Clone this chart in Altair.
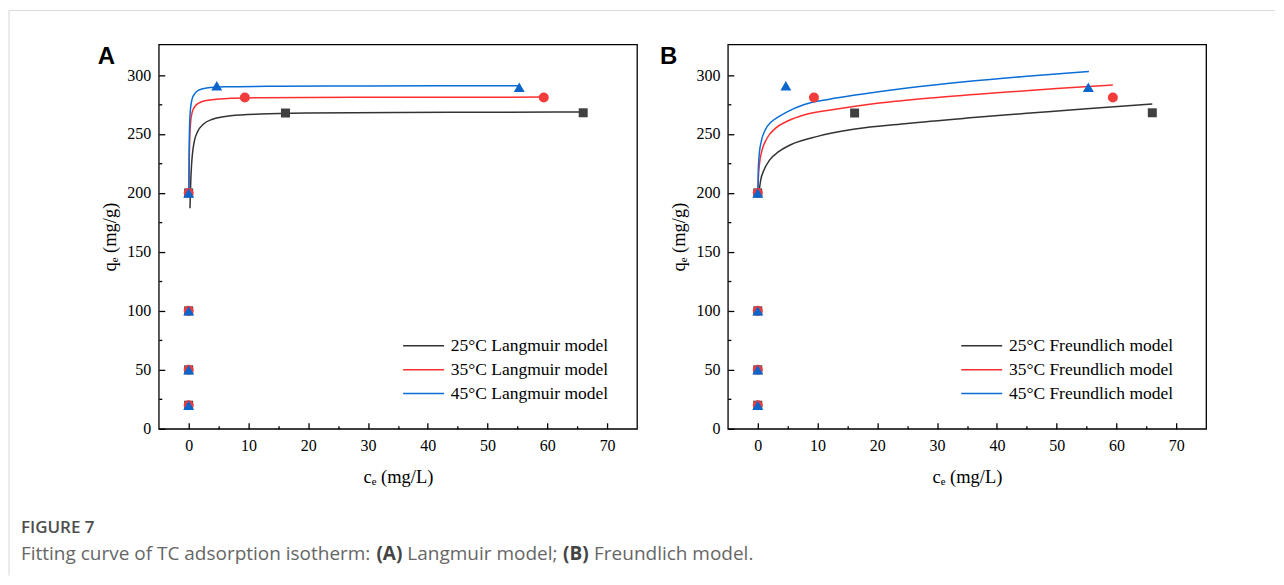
import altair as alt
import pandas as pd

# ---------------- data ----------------
temps = ["25", "35", "45"]

# experimental points (same in both panels)
pt_c25 = [0, 0, 0, 0, 16.2, 66.0]
pt_q25 = [20, 50, 100, 200, 267.8, 268.0]
pt_c35 = [0, 0, 0, 0, 9.4, 59.4]
pt_q35 = [20, 50, 100, 200, 281.0, 281.0]
pt_c45 = [0, 0, 0, 0, 4.7, 55.3]
pt_q45 = [20, 50, 100, 200, 291.0, 289.7]

# Langmuir fitted curves (panel A)
la_c25 = [0.22, 0.35, 0.5, 0.75, 1.0, 1.5, 2.5, 4, 7, 12, 20, 35, 50, 66]
la_q25 = [187, 210, 225, 238, 245, 252, 258.5, 262.5, 265.5, 267, 267.8, 268.2, 268.5, 268.6]
la_c35 = [0.05, 0.1, 0.2, 0.35, 0.6, 1.0, 1.6, 3, 6, 12, 30, 59.4]
la_q35 = [200, 226, 248, 261, 268.5, 273, 276, 278.5, 280, 280.7, 281.1, 281.3]
la_c45 = [0.03, 0.08, 0.15, 0.3, 0.6, 1.0, 1.6, 3, 6, 15, 30, 55.3]
la_q45 = [200, 236, 256, 271, 280, 284, 287, 289, 290, 290.5, 290.8, 291]

# Freundlich fitted curves (panel B)
lb_c25 = [0.17, 0.5, 1, 2, 3.5, 6, 10, 16, 25, 35, 45, 55, 66]
lb_q25 = [199, 211, 219, 228, 235, 242, 248, 254, 259, 263.5, 267.5, 271.5, 275.5]
lb_c35 = [0.03, 0.1, 0.3, 0.7, 1.5, 3, 5, 8, 13, 20, 30, 40, 50, 59.4]
lb_q35 = [200, 212, 225, 236, 246, 255, 261, 266.5, 271, 276, 281, 285, 288.5, 291.5]
lb_c45 = [0.02, 0.08, 0.25, 0.6, 1.2, 2.2, 3.3, 5, 7.8, 12, 17, 25, 35, 45, 55.4]
lb_q45 = [200, 218, 233, 244, 253, 260, 264, 269, 275, 279.5, 283.5, 289, 294.5, 299, 303]

x_major = [0, 10, 20, 30, 40, 50, 60, 70]
x_minor = [5, 15, 25, 35, 45, 55, 65]
y_major = [0, 50, 100, 150, 200, 250, 300]
y_minor = [25, 75, 125, 175, 225, 275]

line_colors = ["#333333", "#FF2E2E", "#0A6ED6"]
marker_colors = ["#404040", "#F23B3B", "#0B66CC"]
marker_shapes = ["square", "circle", "triangle-up"]
marker_sizes = [81, 120, 150]

SERIF = "Liberation Serif"

points_df = pd.DataFrame(
    [{"c": c, "q": q, "temp": t}
     for t, cs, qs in [("25", pt_c25, pt_q25), ("35", pt_c35, pt_q35), ("45", pt_c45, pt_q45)]
     for c, q in zip(cs, qs)]
)


def panel(sets, model, label, label_dx, legend_x):
    names = [f"{t}°C {model} model" for t in temps]
    lines_df = pd.DataFrame(
        [{"c": c, "q": q, "series": f"{t}°C {model} model"}
         for t, cs, qs in sets for c, q in zip(cs, qs)]
    )
    xs = alt.Scale(domain=[-5, 75], nice=False, zero=False)
    ys = alt.Scale(domain=[0, 326], nice=False, zero=False)

    lines = alt.Chart(lines_df).mark_line(strokeWidth=1.5, interpolate="monotone").encode(
        x=alt.X("c:Q", scale=xs, axis=alt.Axis(
            values=x_major, tickSize=6, offset=-6, orient="bottom", labelPadding=9,
            title="cₑ (mg/L)", titlePadding=14)),
        y=alt.Y("q:Q", scale=ys, axis=alt.Axis(
            values=y_major, tickSize=6, offset=-6, orient="left", labelPadding=8,
            title="qₑ (mg/g)", titlePadding=7)),
        stroke=alt.Stroke("series:N", scale=alt.Scale(domain=names, range=line_colors),
                          legend=alt.Legend(
                              title=None, orient="none", legendX=legend_x, legendY=293,
                              symbolType="M-1,0H7.2", symbolSize=100, symbolStrokeWidth=1.5,
                              labelOffset=34, labelFont=SERIF, labelFontSize=17.5,
                              labelLimit=400, labelColor="#000", rowPadding=5)),
    )
    pts = alt.Chart(points_df).mark_point(filled=True, opacity=1, strokeWidth=0).encode(
        x=alt.X("c:Q", scale=xs, axis=alt.Axis(
            values=x_minor, tickSize=3, offset=-3, orient="bottom", labels=False, title=None)),
        y=alt.Y("q:Q", scale=ys, axis=alt.Axis(
            values=y_minor, tickSize=3, offset=-3, orient="left", labels=False, title=None)),
        shape=alt.Shape("temp:N", scale=alt.Scale(domain=temps, range=marker_shapes), legend=None),
        fill=alt.Fill("temp:N", scale=alt.Scale(domain=temps, range=marker_colors), legend=None),
        size=alt.Size("temp:N", scale=alt.Scale(domain=temps, range=marker_sizes), legend=None),
    )
    lab = alt.Chart(pd.DataFrame({"t": [label]})).mark_text(
        font="Liberation Sans", fontSize=24, fontWeight="bold", align="left",
        baseline="alphabetic", color="#000"
    ).encode(x=alt.value(label_dx), y=alt.value(20), text="t:N")

    return alt.layer(lines, pts, lab).resolve_axis(x="independent", y="independent").properties(
        width=479, height=385, view=alt.ViewBackground(stroke="#000", strokeWidth=1.3)
    )


A = panel([("25", la_c25, la_q25), ("35", la_c35, la_q35), ("45", la_c45, la_q45)],
          "Langmuir", "A", -61, 241)
B = panel([("25", lb_c25, lb_q25), ("35", lb_c35, lb_q35), ("45", lb_c45, lb_q45)],
          "Freundlich", "B", -68, 230)

one = pd.DataFrame({"a": [0]})
CAP = "Open Sans"
CAPSIZE = 19
cap_layers = [
    alt.Chart(one).mark_rule(color="#d8d8d8", strokeWidth=1).encode(
        x=alt.value(-150), x2=alt.value(1118), y=alt.value(-439)),
    alt.Chart(one).mark_rule(color="#d8d8d8", strokeWidth=1).encode(
        x=alt.value(-150), y=alt.value(-439), y2=alt.value(127)),
    alt.Chart(pd.DataFrame({"t": ["FIGURE 7"]})).mark_text(
        font=CAP, fontSize=17, fontWeight=600, color="#4d4d4d", align="left", baseline="middle"
    ).encode(x=alt.value(-138), y=alt.value(79), text="t:N"),
]
segments = [
    ("Fitting curve of TC adsorption isotherm:", -138, "normal", "#666666"),
    ("(A)", 218, "bold", "#444444"),
    ("Langmuir model;", 249, "normal", "#666666"),
    ("(B)", 405, "bold", "#444444"),
    ("Freundlich model.", 436, "normal", "#666666"),
]
for txt, xpos, wt, col in segments:
    cap_layers.append(
        alt.Chart(pd.DataFrame({"t": [txt]})).mark_text(
            font=CAP, fontSize=CAPSIZE, fontWeight=wt, color=col, align="left", baseline="middle"
        ).encode(x=alt.value(xpos), y=alt.value(105), text="t:N")
    )
caption = alt.layer(*cap_layers).properties(width=479, height=120)

chart = alt.concat(A, B, caption, columns=2, bounds="flush",
                   spacing={"row": 20, "column": 91}).resolve_scale(
    stroke="independent", fill="independent", shape="independent", size="independent"
).properties(
    padding={"left": 0, "top": 1, "right": 0, "bottom": 0}, background="white"
).configure_view(strokeWidth=0).configure_axis(
    domain=False, grid=False, tickColor="#000", tickWidth=1.3,
    labelFont=SERIF, labelFontSize=16, labelColor="#000",
    titleFont=SERIF, titleFontSize=18.5, titleFontWeight="normal", titleColor="#000",
)

chart.save("out.html", embed_options={"renderer": "svg", "actions": False})
